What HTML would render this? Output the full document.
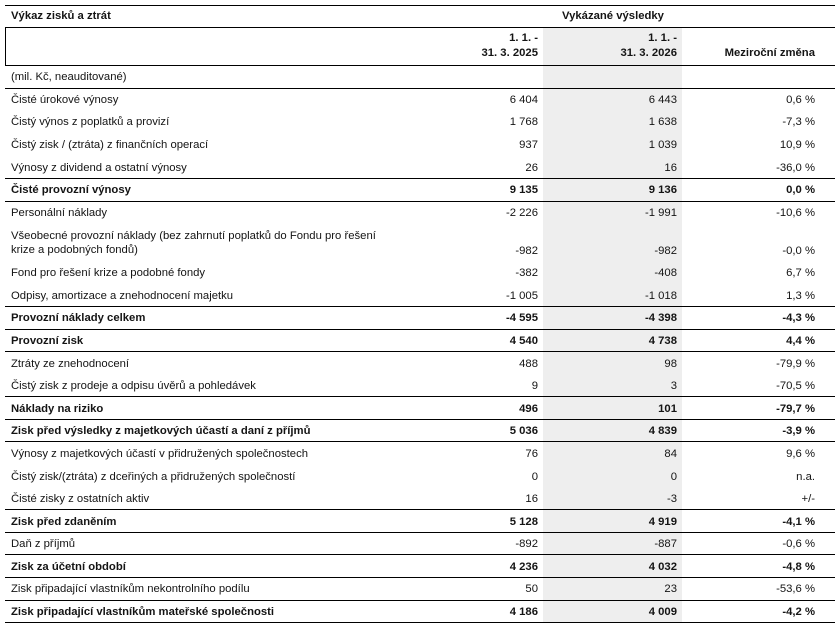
<!DOCTYPE html>
<html>
<head>
<meta charset="utf-8">
<style>
  html,body{margin:0;padding:0;background:#fff;}
  body{width:835px;height:632px;position:relative;overflow:hidden;
       font-family:"Liberation Sans",Arial,sans-serif;font-size:11.3px;color:#141414;}
  .ln{position:absolute;left:5px;width:830px;height:1px;background:#000;}
  .gray{position:absolute;left:543px;width:139px;top:28px;height:595px;background:#eeeeee;}
  .t{position:absolute;white-space:nowrap;line-height:14px;}
  .l{left:11px;}
  .c1{right:297px;text-align:right;}
  .c2{right:158px;text-align:right;}
  .c3{right:20px;text-align:right;}
  .b{font-weight:bold;}
</style>
</head>
<body>
<div class="gray"></div>

<!-- lines -->
<div class="ln" style="top:5px"></div>
<div class="ln" style="top:27px"></div>
<div style="position:absolute;left:5px;top:27px;width:1px;height:38px;background:#000"></div>
<div class="ln" style="top:65px"></div>
<div class="ln" style="top:88px"></div>
<div class="ln" style="top:178px"></div>
<div class="ln" style="top:201px"></div>
<div class="ln" style="top:306px"></div>
<div class="ln" style="top:329px"></div>
<div class="ln" style="top:351px"></div>
<div class="ln" style="top:396px"></div>
<div class="ln" style="top:419px"></div>
<div class="ln" style="top:441px"></div>
<div class="ln" style="top:509px"></div>
<div class="ln" style="top:532px"></div>
<div class="ln" style="top:554px"></div>
<div class="ln" style="top:577px"></div>
<div class="ln" style="top:600px"></div>
<div class="ln" style="top:622px"></div>

<!-- header -->
<div class="t l b" style="top:9px">Výkaz zisků a ztrát</div>
<div class="t b" style="top:9px;left:562px;width:100px;text-align:center">Vykázané výsledky</div>
<div class="t c1 b" style="top:31px">1. 1. -</div>
<div class="t c1 b" style="top:46px">31. 3. 2025</div>
<div class="t c2 b" style="top:31px">1. 1. -</div>
<div class="t c2 b" style="top:46px">31. 3. 2026</div>
<div class="t c3 b" style="top:46px">Meziroční změna</div>
<div class="t l" style="top:70px">(mil. Kč, neauditované)</div>

<!-- rows: top = rowtop + 4.3 -->
<div class="t l" style="top:93px">Čisté úrokové výnosy</div>
<div class="t c1" style="top:93px">6 404</div><div class="t c2" style="top:93px">6 443</div><div class="t c3" style="top:93px">0,6 %</div>

<div class="t l" style="top:115px">Čistý výnos z poplatků a provizí</div>
<div class="t c1" style="top:115px">1 768</div><div class="t c2" style="top:115px">1 638</div><div class="t c3" style="top:115px">-7,3 %</div>

<div class="t l" style="top:138px">Čistý zisk / (ztráta) z finančních operací</div>
<div class="t c1" style="top:138px">937</div><div class="t c2" style="top:138px">1 039</div><div class="t c3" style="top:138px">10,9 %</div>

<div class="t l" style="top:161px">Výnosy z dividend a ostatní výnosy</div>
<div class="t c1" style="top:161px">26</div><div class="t c2" style="top:161px">16</div><div class="t c3" style="top:161px">-36,0 %</div>

<div class="t l b" style="top:183px">Čisté provozní výnosy</div>
<div class="t c1 b" style="top:183px">9 135</div><div class="t c2 b" style="top:183px">9 136</div><div class="t c3 b" style="top:183px">0,0 %</div>

<div class="t l" style="top:206px">Personální náklady</div>
<div class="t c1" style="top:206px">-2 226</div><div class="t c2" style="top:206px">-1 991</div><div class="t c3" style="top:206px">-10,6 %</div>

<div class="t l" style="top:229px">Všeobecné provozní náklady (bez zahrnutí poplatků do Fondu pro řešení<br>krize a podobných fondů)</div>
<div class="t c1" style="top:244px">-982</div><div class="t c2" style="top:244px">-982</div><div class="t c3" style="top:244px">-0,0 %</div>

<div class="t l" style="top:266px">Fond pro řešení krize a podobné fondy</div>
<div class="t c1" style="top:266px">-382</div><div class="t c2" style="top:266px">-408</div><div class="t c3" style="top:266px">6,7 %</div>

<div class="t l" style="top:289px">Odpisy, amortizace a znehodnocení majetku</div>
<div class="t c1" style="top:289px">-1 005</div><div class="t c2" style="top:289px">-1 018</div><div class="t c3" style="top:289px">1,3 %</div>

<div class="t l b" style="top:311px">Provozní náklady celkem</div>
<div class="t c1 b" style="top:311px">-4 595</div><div class="t c2 b" style="top:311px">-4 398</div><div class="t c3 b" style="top:311px">-4,3 %</div>

<div class="t l b" style="top:334px">Provozní zisk</div>
<div class="t c1 b" style="top:334px">4 540</div><div class="t c2 b" style="top:334px">4 738</div><div class="t c3 b" style="top:334px">4,4 %</div>

<div class="t l" style="top:357px">Ztráty ze znehodnocení</div>
<div class="t c1" style="top:357px">488</div><div class="t c2" style="top:357px">98</div><div class="t c3" style="top:357px">-79,9 %</div>

<div class="t l" style="top:379px">Čistý zisk z prodeje a odpisu úvěrů a pohledávek</div>
<div class="t c1" style="top:379px">9</div><div class="t c2" style="top:379px">3</div><div class="t c3" style="top:379px">-70,5 %</div>

<div class="t l b" style="top:402px">Náklady na riziko</div>
<div class="t c1 b" style="top:402px">496</div><div class="t c2 b" style="top:402px">101</div><div class="t c3 b" style="top:402px">-79,7 %</div>

<div class="t l b" style="top:424px">Zisk před výsledky z majetkových účastí a daní z příjmů</div>
<div class="t c1 b" style="top:424px">5 036</div><div class="t c2 b" style="top:424px">4 839</div><div class="t c3 b" style="top:424px">-3,9 %</div>

<div class="t l" style="top:447px">Výnosy z majetkových účastí v přidružených společnostech</div>
<div class="t c1" style="top:447px">76</div><div class="t c2" style="top:447px">84</div><div class="t c3" style="top:447px">9,6 %</div>

<div class="t l" style="top:470px">Čistý zisk/(ztráta) z dceřiných a přidružených společností</div>
<div class="t c1" style="top:470px">0</div><div class="t c2" style="top:470px">0</div><div class="t c3" style="top:470px">n.a.</div>

<div class="t l" style="top:492px">Čisté zisky z ostatních aktiv</div>
<div class="t c1" style="top:492px">16</div><div class="t c2" style="top:492px">-3</div><div class="t c3" style="top:492px">+/-</div>

<div class="t l b" style="top:515px">Zisk před zdaněním</div>
<div class="t c1 b" style="top:515px">5 128</div><div class="t c2 b" style="top:515px">4 919</div><div class="t c3 b" style="top:515px">-4,1 %</div>

<div class="t l" style="top:537px">Daň z příjmů</div>
<div class="t c1" style="top:537px">-892</div><div class="t c2" style="top:537px">-887</div><div class="t c3" style="top:537px">-0,6 %</div>

<div class="t l b" style="top:560px">Zisk za účetní období</div>
<div class="t c1 b" style="top:560px">4 236</div><div class="t c2 b" style="top:560px">4 032</div><div class="t c3 b" style="top:560px">-4,8 %</div>

<div class="t l" style="top:582px">Zisk připadající vlastníkům nekontrolního podílu</div>
<div class="t c1" style="top:582px">50</div><div class="t c2" style="top:582px">23</div><div class="t c3" style="top:582px">-53,6 %</div>

<div class="t l b" style="top:605px">Zisk připadající vlastníkům mateřské společnosti</div>
<div class="t c1 b" style="top:605px">4 186</div><div class="t c2 b" style="top:605px">4 009</div><div class="t c3 b" style="top:605px">-4,2 %</div>
</body>
</html>
